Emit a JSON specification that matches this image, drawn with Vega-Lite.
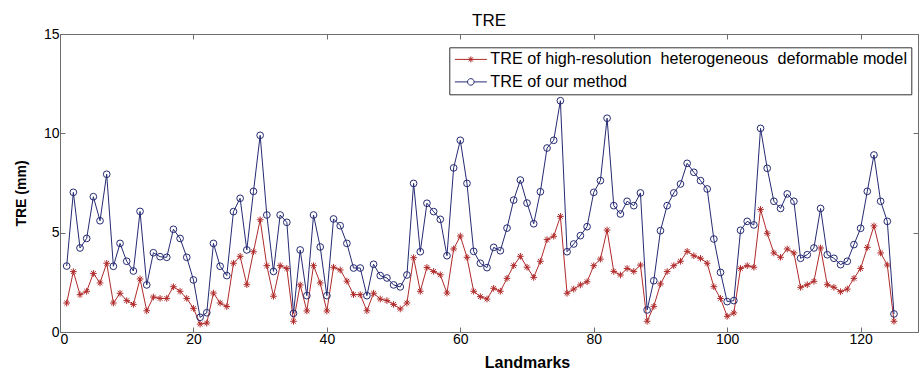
{
  "$schema": "https://vega.github.io/schema/vega-lite/v6.json",
  "width": 858,
  "height": 298,
  "autosize": {"type": "none"},
  "padding": {"left": 60, "top": 34, "right": 2, "bottom": 42},
  "background": "white",
  "title": {"text": "TRE", "frame": "group", "fontSize": 17, "font": "Liberation Sans", "fontWeight": "normal", "color": "black", "offset": -3},
  "data": {"values": [
    {"i":1,"hr":1.46,"our":3.32},{"i":2,"hr":3.04,"our":7.03},{"i":3,"hr":1.88,"our":4.23},{"i":4,"hr":2.05,"our":4.71},{"i":5,"hr":2.95,"our":6.81},
    {"i":6,"hr":2.47,"our":5.60},{"i":7,"hr":3.46,"our":7.94},{"i":8,"hr":1.46,"our":3.31},{"i":9,"hr":1.95,"our":4.46},{"i":10,"hr":1.58,"our":3.56},
    {"i":11,"hr":1.39,"our":3.07},{"i":12,"hr":2.67,"our":6.07},{"i":13,"hr":1.07,"our":2.37},{"i":14,"hr":1.76,"our":3.99},{"i":15,"hr":1.69,"our":3.79},
    {"i":16,"hr":1.69,"our":3.76},{"i":17,"hr":2.28,"our":5.17},{"i":18,"hr":2.05,"our":4.71},{"i":19,"hr":1.69,"our":3.76},{"i":20,"hr":1.19,"our":2.62},
    {"i":21,"hr":0.40,"our":0.74},{"i":22,"hr":0.45,"our":0.97},{"i":23,"hr":1.96,"our":4.46},{"i":24,"hr":1.46,"our":3.31},{"i":25,"hr":1.28,"our":2.84},
    {"i":26,"hr":3.46,"our":6.06},{"i":27,"hr":3.81,"our":6.73},{"i":28,"hr":2.38,"our":4.13},{"i":29,"hr":4.04,"our":7.08},{"i":30,"hr":5.65,"our":9.90},
    {"i":31,"hr":3.34,"our":5.89},{"i":32,"hr":1.80,"our":3.05},{"i":33,"hr":3.34,"our":5.89},{"i":34,"hr":3.20,"our":5.52},{"i":35,"hr":0.54,"our":0.94},
    {"i":36,"hr":2.37,"our":4.13},{"i":37,"hr":1.06,"our":1.83},{"i":38,"hr":3.34,"our":5.89},{"i":39,"hr":2.47,"our":4.28},{"i":40,"hr":1.06,"our":1.83},
    {"i":41,"hr":3.26,"our":5.69},{"i":42,"hr":3.12,"our":5.35},{"i":43,"hr":2.56,"our":4.46},{"i":44,"hr":1.88,"our":3.22},{"i":45,"hr":1.88,"our":3.22},
    {"i":46,"hr":1.07,"our":1.83},{"i":47,"hr":1.95,"our":3.41},{"i":48,"hr":1.66,"our":2.84},{"i":49,"hr":1.58,"our":2.72},{"i":50,"hr":1.39,"our":2.37},
    {"i":51,"hr":1.16,"our":2.27},{"i":52,"hr":1.46,"our":2.87},{"i":53,"hr":3.74,"our":7.48},{"i":54,"hr":2.05,"our":4.04},{"i":55,"hr":3.25,"our":6.48},
    {"i":56,"hr":3.05,"our":6.06},{"i":57,"hr":2.88,"our":5.67},{"i":58,"hr":1.96,"our":3.84},{"i":59,"hr":4.18,"our":8.26},{"i":60,"hr":4.83,"our":9.65},
    {"i":61,"hr":3.76,"our":7.48},{"i":62,"hr":2.05,"our":4.06},{"i":63,"hr":1.78,"our":3.46},{"i":64,"hr":1.66,"our":3.24},{"i":65,"hr":2.20,"our":4.26},
    {"i":66,"hr":2.05,"our":4.09},{"i":67,"hr":2.70,"our":5.23},{"i":68,"hr":3.34,"our":6.64},{"i":69,"hr":3.81,"our":7.65},{"i":70,"hr":3.26,"our":6.49},
    {"i":71,"hr":2.75,"our":5.45},{"i":72,"hr":3.56,"our":7.06},{"i":73,"hr":4.65,"our":9.26},{"i":74,"hr":4.82,"our":9.65},{"i":75,"hr":5.82,"our":11.64},
    {"i":76,"hr":1.95,"our":4.04},{"i":77,"hr":2.16,"our":4.43},{"i":78,"hr":2.37,"our":4.85},{"i":79,"hr":2.53,"our":5.30},{"i":80,"hr":3.34,"our":7.03},
    {"i":81,"hr":3.67,"our":7.62},{"i":82,"hr":5.13,"our":10.76},{"i":83,"hr":3.05,"our":6.36},{"i":84,"hr":2.87,"our":5.94},{"i":85,"hr":3.20,"our":6.58},
    {"i":86,"hr":3.05,"our":6.36},{"i":87,"hr":3.37,"our":7.00},{"i":88,"hr":0.54,"our":1.11},{"i":89,"hr":1.29,"our":2.58},{"i":90,"hr":2.42,"our":5.10},
    {"i":91,"hr":3.04,"our":6.36},{"i":92,"hr":3.34,"our":7.00},{"i":93,"hr":3.56,"our":7.45},{"i":94,"hr":4.06,"our":8.49},{"i":95,"hr":3.84,"our":8.04},
    {"i":96,"hr":3.71,"our":7.62},{"i":97,"hr":3.46,"our":7.20},{"i":98,"hr":2.28,"our":4.68},{"i":99,"hr":1.69,"our":3.00},{"i":100,"hr":0.79,"our":1.53},
    {"i":101,"hr":0.96,"our":1.58},{"i":102,"hr":3.20,"our":5.12},{"i":103,"hr":3.34,"our":5.57},{"i":104,"hr":3.26,"our":5.39},{"i":105,"hr":6.17,"our":10.25},
    {"i":106,"hr":4.97,"our":8.24},{"i":107,"hr":3.98,"our":6.58},{"i":108,"hr":3.76,"our":6.22},{"i":109,"hr":4.18,"our":6.95},{"i":110,"hr":3.98,"our":6.58},
    {"i":111,"hr":2.25,"our":3.71},{"i":112,"hr":2.38,"our":3.89},{"i":113,"hr":2.55,"our":4.23},{"i":114,"hr":4.23,"our":6.22},{"i":115,"hr":2.38,"our":3.89},
    {"i":116,"hr":2.25,"our":3.71},{"i":117,"hr":2.03,"our":3.39},{"i":118,"hr":2.16,"our":3.56},{"i":119,"hr":2.70,"our":4.40},{"i":120,"hr":3.20,"our":5.22},
    {"i":121,"hr":4.26,"our":7.08},{"i":122,"hr":5.34,"our":8.91},{"i":123,"hr":3.98,"our":6.58},{"i":124,"hr":3.37,"our":5.57},{"i":125,"hr":0.54,"our":0.91}
  ]},
  "transform": [{"fold": ["hr", "our"], "as": ["series", "v"]}],
  "resolve": {"axis": {"x": "independent", "y": "independent"}},
  "layer": [
    {
      "mark": {"type": "line", "strokeWidth": 1},
      "encoding": {
        "x": {"field": "i", "type": "quantitative", "scale": {"domain": [0, 128.6], "nice": false, "zero": false},
              "axis": {"orient": "bottom", "values": [0, 20, 40, 60, 80, 100, 120], "title": "Landmarks", "titleFontSize": 16, "titleFontWeight": "bold", "titleX": 467, "titleY": 30, "titleBaseline": "middle", "titleAlign": "center", "labelPadding": 5}},
        "y": {"field": "v", "type": "quantitative", "scale": {"domain": [0, 15], "nice": false},
              "axis": {"orient": "left", "values": [0, 5, 10, 15], "title": "TRE (mm)", "titleFontSize": 14, "titleFontWeight": "bold", "titleX": -39, "titleY": 159, "titleBaseline": "middle", "titleAlign": "center", "titleAngle": -90, "labelPadding": 6}},
        "color": {"field": "series", "type": "nominal",
                  "scale": {"domain": ["hr", "our"], "range": ["#b02a2a", "#252a72"]},
                  "legend": {
                    "title": null, "orient": "none", "legendX": 389.3, "legendY": 13.3,
                    "labelExpr": "datum.value == 'hr' ? 'TRE of high-resolution\u00a0 heterogeneous\u00a0 deformable model' : 'TRE of our method'",
                    "labelFont": "Liberation Sans", "labelFontSize": 16.2, "labelColor": "black", "labelLimit": 0,
                    "strokeColor": "#333333", "fillColor": "white", "padding": 4, "rowPadding": 5.5,
                    "symbolSize": 36, "symbolStrokeWidth": 1, "symbolOffset": 9.45, "labelOffset": 11.4,
                    "symbolFillColor": "transparent",
                    "symbolType": {"expr": "datum.value == 'hr' ? 'M-5.33,0L5.33,0M-1,0L1,0M0,-1L0,1M-0.7,-0.7L0.7,0.7M-0.7,0.7L0.7,-0.7' : 'M-5.33,0L-1.1,0M1.1,0L5.33,0M1.1,0A1.1,1.1,0,1,1,-1.1,0A1.1,1.1,0,1,1,1.1,0'"}
                  }}
      }
    },
    {
      "transform": [{"filter": "datum.series == 'hr'"}],
      "mark": {"type": "point", "filled": false, "size": 45, "strokeWidth": 1, "opacity": 1, "color": "#b02a2a",
               "shape": "M-1,0L1,0M0,-1L0,1M-0.7,-0.7L0.7,0.7M-0.7,0.7L0.7,-0.7"},
      "encoding": {
        "x": {"field": "i", "type": "quantitative",
              "axis": {"orient": "top", "values": [0, 20, 40, 60, 80, 100, 120], "labels": false, "title": null}},
        "y": {"field": "v", "type": "quantitative",
              "axis": {"orient": "right", "values": [0, 5, 10, 15], "labels": false, "title": null}}
      }
    },
    {
      "transform": [{"filter": "datum.series == 'our'"}],
      "mark": {"type": "point", "filled": false, "size": 45, "strokeWidth": 1, "opacity": 1, "color": "#252a72", "shape": "circle"},
      "encoding": {
        "x": {"field": "i", "type": "quantitative", "axis": null},
        "y": {"field": "v", "type": "quantitative", "axis": null}
      }
    }
  ],
  "config": {
    "view": {"stroke": null},
    "axis": {
      "grid": false, "domainColor": "#6e6e6e", "tickColor": "#6e6e6e", "tickSize": -5, "domainWidth": 1, "tickWidth": 1,
      "labelFont": "Liberation Sans", "labelFontSize": 14, "labelColor": "black",
      "titleFont": "Liberation Sans", "titleColor": "black"
    }
  }
}
